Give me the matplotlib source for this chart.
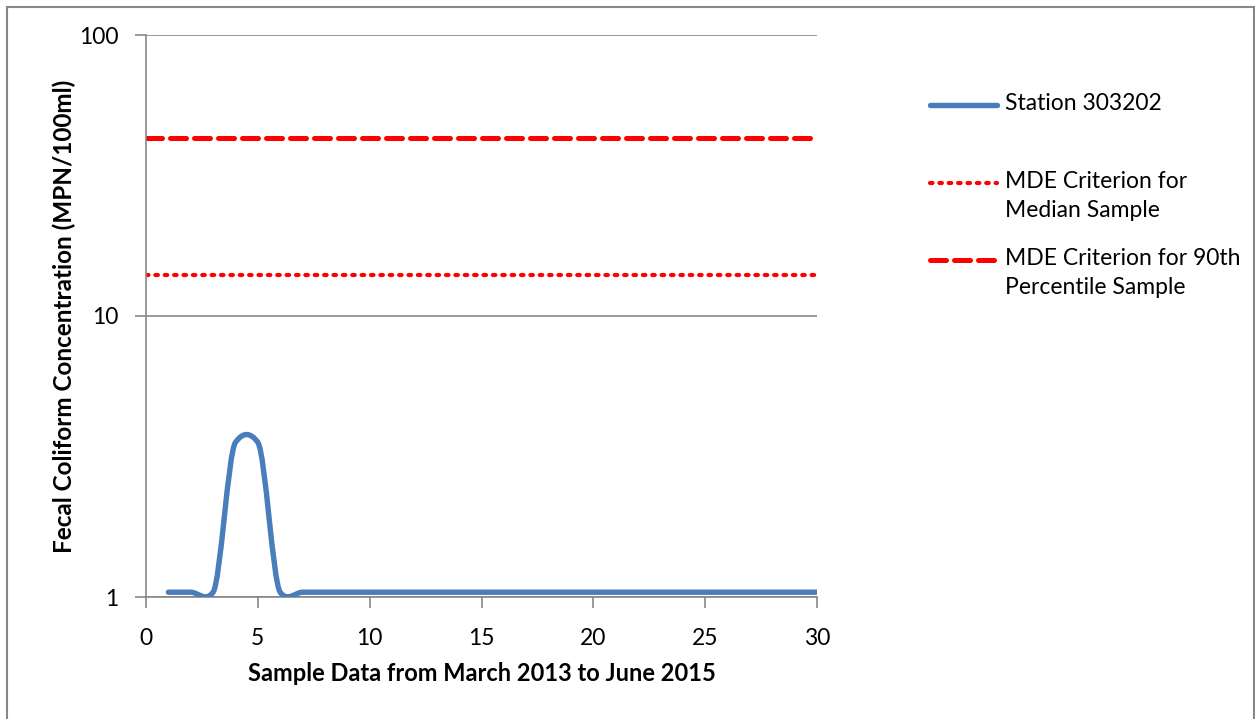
import matplotlib
matplotlib.use("Agg")
import matplotlib.pyplot as plt
import numpy as np
from matplotlib.path import Path
from matplotlib.patches import PathPatch, Rectangle
from matplotlib.lines import Line2D

plt.rcParams['font.family'] = ['Lato', 'DejaVu Sans']

# data
sample_no = list(range(1, 31))
station_vals = [1.04, 1.04, 1.04, 3.55, 3.55, 1.04] + [1.04] * 24
median_criterion = 14
p90_criterion = 43

labels = ['Station 303202', 'MDE Criterion for\nMedian Sample', 'MDE Criterion for 90th\nPercentile Sample']

blue = '#4a7ebb'
red = '#ff0000'
grey = '#878787'
W, H = 1255, 719


def smooth_path(xs, ys, k=0.07):
    # Excel-like smoothed line: low-tension Catmull-Rom as cubic Beziers in (x, log y)
    lx = np.array(xs, dtype=float)
    ly = np.log10(ys)
    verts = [(lx[0], ys[0])]
    codes = [Path.MOVETO]
    n = len(lx)
    for i in range(n - 1):
        p0 = (lx[max(i - 1, 0)], ly[max(i - 1, 0)])
        p1 = (lx[i], ly[i])
        p2 = (lx[i + 1], ly[i + 1])
        p3 = (lx[min(i + 2, n - 1)], ly[min(i + 2, n - 1)])
        c1 = (p1[0] + (p2[0] - p0[0]) / 6, p1[1] + (p2[1] - p0[1]) * k)
        c2 = (p2[0] - (p3[0] - p1[0]) / 6, p2[1] - (p3[1] - p1[1]) * k)
        for c in (c1, c2, p2):
            verts.append((c[0], 10 ** c[1]))
            codes.append(Path.CURVE4)
    return Path(verts, codes)


fig = plt.figure(figsize=(W / 100, H / 100), dpi=100)
ax = fig.add_axes([146 / W, 1 - 597 / H, (817 - 146) / W, (597 - 35) / H])

ax.set_yscale('log')
ax.set_ylim(1, 100)
ax.set_xlim(0, 30)

dot_ls = (0, (0.6, 1.65))
dash_ls = (0, (3.2, 1.6))
ax.add_patch(PathPatch(smooth_path(sample_no, station_vals), fill=False,
                       edgecolor=blue, lw=3.9, capstyle='round', joinstyle='round', zorder=3))
ax.axhline(median_criterion, color=red, lw=3, ls=dot_ls, dash_capstyle='round', zorder=2)
ax.axhline(p90_criterion, color=red, lw=3.6, ls=dash_ls, dash_capstyle='round', zorder=2)

ax.set_xticks([0, 5, 10, 15, 20, 25, 30])
ax.set_yticks([1, 10, 100])
ax.set_yticklabels(['1', '10', '100'])
ax.yaxis.set_minor_locator(matplotlib.ticker.NullLocator())
ax.grid(axis='y', color=grey, lw=1.2)
ax.set_axisbelow(True)
for s in ['top', 'right']:
    ax.spines[s].set_visible(False)
for s in ['left', 'bottom']:
    ax.spines[s].set_color(grey)
    ax.spines[s].set_linewidth(1.2)
ax.tick_params(axis='both', colors=grey, labelcolor='black', labelsize=16.5,
               direction='out', length=8, width=1.2)
ax.tick_params(axis='y', pad=12)
ax.tick_params(axis='x', pad=14)

ax.set_xlabel('Sample Data from March 2013 to June 2015', fontsize=17, fontweight='bold', labelpad=10)
ax.set_ylabel('Fecal Coliform Concentration (MPN/100ml)', fontsize=17.5, fontweight='bold', labelpad=2)

# legend drawn by hand: handles line up with the first line of each label
legend_styles = [
    dict(color=blue, lw=3.9, solid_capstyle='round'),
    dict(color=red, lw=3, ls=dot_ls, dash_capstyle='round'),
    dict(color=red, lw=3.6, ls=dash_ls, dash_capstyle='round'),
]
legend_y = [105, 183, 260]
for lab, style, yy in zip(labels, legend_styles, legend_y):
    fig.add_artist(Line2D([930 / W, 997 / W], [1 - yy / H] * 2, transform=fig.transFigure, **style))
    fig.text(1005 / W, 1 - (yy - 12) / H, lab, fontsize=16.5, va='top', ha='left', linespacing=1.45)

fig.add_artist(Rectangle((6.5 / W, -0.01), (1254 - 6.5) / W, 1 - 6.5 / H + 0.01,
                         transform=fig.transFigure, fill=False, edgecolor=grey, lw=1.5))

fig.savefig('out.png', dpi=100)
